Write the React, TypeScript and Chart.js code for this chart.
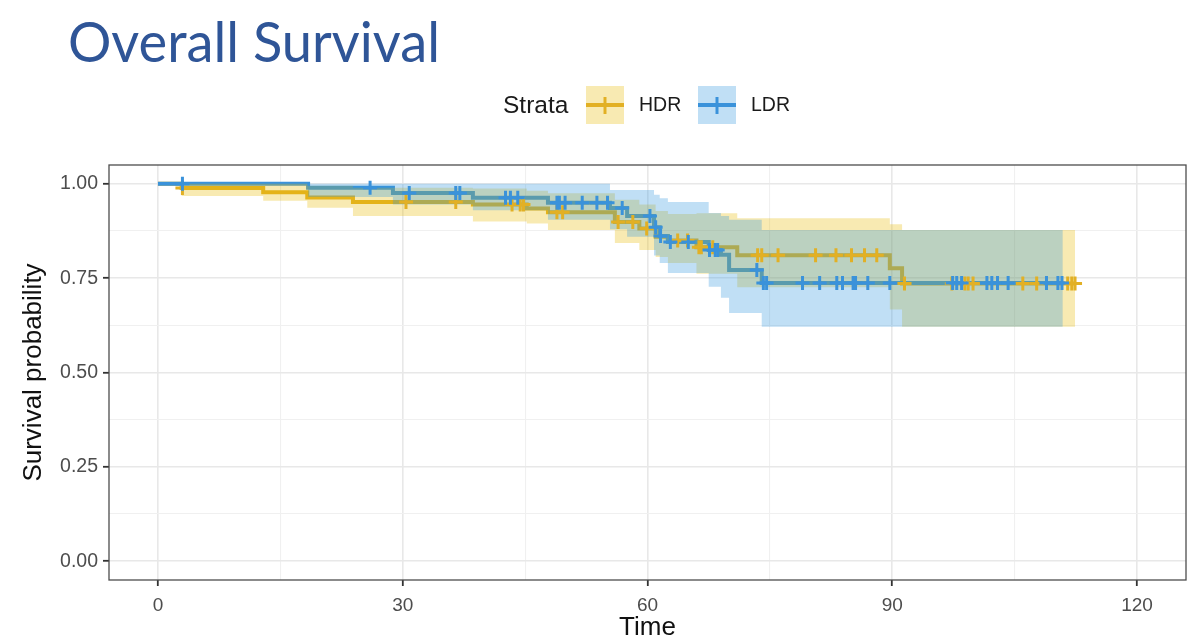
import React, { useEffect, useRef } from 'react';
import { Chart, registerables } from 'chart.js';

Chart.register(...registerables);

// ---------- data ----------
const TITLE = 'Overall Survival';
const strataNames = ['HDR', 'LDR'];

const hdrTime = [0, 2.9, 12.9, 18.3, 23.9, 38.6, 45.2, 47.8, 56.0, 59.0, 61.0, 62.5, 66.0, 71.0, 89.7, 91.2, 112.4];
const hdrSurv = [1.0, 0.989, 0.978, 0.964, 0.952, 0.945, 0.935, 0.925, 0.899, 0.882, 0.86, 0.85, 0.832, 0.811, 0.776, 0.736, 0.736];
const hdrLower = [1.0, 0.968, 0.955, 0.937, 0.915, 0.9, 0.895, 0.878, 0.843, 0.825, 0.806, 0.79, 0.762, 0.726, 0.667, 0.621, 0.621];
const hdrUpper = [1.0, 1.0, 1.0, 0.995, 0.99, 0.988, 0.982, 0.975, 0.958, 0.945, 0.928, 0.92, 0.922, 0.909, 0.893, 0.878, 0.878];
const hdrCensor = [3.0, 30.4, 36.5, 43.4, 44.4, 44.8, 48.9, 49.6, 56.4, 58.2, 59.9, 63.7, 64.9, 66.3, 66.6, 68.0, 73.5, 74.0, 76.0, 80.6, 83.1, 85.0, 86.6, 88.1, 91.5, 97.3, 98.9, 99.3, 99.9, 106.0, 107.7, 111.5, 112.0, 112.4];

const ldrTime = [0, 18.4, 28.8, 38.6, 47.8, 55.4, 57.5, 60.8, 61.5, 62.5, 67.5, 69.0, 70.0, 74.0, 110.9];
const ldrSurv = [1.0, 0.99, 0.976, 0.963, 0.95, 0.936, 0.915, 0.885, 0.862, 0.846, 0.825, 0.812, 0.772, 0.737, 0.737];
const ldrLower = [1.0, 0.965, 0.945, 0.93, 0.905, 0.88, 0.86, 0.81, 0.79, 0.764, 0.727, 0.698, 0.658, 0.621, 0.621];
const ldrUpper = [1.0, 1.0, 1.0, 1.0, 1.0, 0.984, 0.984, 0.971, 0.962, 0.952, 0.923, 0.915, 0.905, 0.878, 0.878];
const ldrCensor = [3.0, 26.0, 30.8, 36.5, 37.0, 42.6, 43.2, 44.1, 48.9, 49.2, 49.9, 52.0, 53.8, 55.1, 56.9, 60.3, 61.0, 61.6, 62.8, 65.0, 67.6, 68.3, 68.6, 73.4, 74.2, 74.6, 79.0, 81.1, 83.2, 83.9, 85.2, 85.5, 87.0, 89.7, 97.4, 97.9, 98.5, 101.6, 102.2, 102.9, 104.2, 108.9, 110.3, 110.8];

const xTicks = [0, 15, 30, 45, 60, 75, 90, 105, 120];
const xMajor = [0, 30, 60, 90, 120];
const yTicks = [0, 0.125, 0.25, 0.375, 0.5, 0.625, 0.75, 0.875, 1];
const yMajor = [0, 0.25, 0.5, 0.75, 1];

// ---------- styles ----------
const HDR_COLOR = '#E2B024';
const LDR_COLOR = '#3A92DA';
const HDR_BAND = 'rgba(231,184,0,0.3)';
const LDR_BAND = 'rgba(46,150,223,0.3)';
const TITLE_COLOR = '#2F5597';
const FONT = "'Liberation Sans', Arial, sans-serif";

const pts = (times: number[], vals: number[]) => times.map((t, i) => ({ x: t, y: vals[i] }));
const stepAt = (times: number[], vals: number[], t: number) => {
  let v = vals[0];
  for (let i = 0; i < times.length; i++) if (times[i] <= t) v = vals[i];
  return v;
};

const isMajor = (list: number[], v: number) => list.some((m) => Math.abs(m - v) < 1e-6);

const overlayPlugin = {
  id: 'overlay',
  afterDraw(chart: any) {
    const { ctx, chartArea: a } = chart;
    ctx.save();
    // panel border
    ctx.strokeStyle = '#4d4d4d';
    ctx.lineWidth = 1.3;
    ctx.strokeRect(a.left, a.top, a.right - a.left, a.bottom - a.top);

    // title
    ctx.fillStyle = TITLE_COLOR;
    ctx.font = "400 56px Lato, 'Open Sans', sans-serif";
    ctx.textAlign = 'left';
    ctx.textBaseline = 'alphabetic';
    const w = ctx.measureText(TITLE).width;
    ctx.save();
    ctx.translate(68, 62);
    ctx.scale(372 / w, 1);
    ctx.fillText(TITLE, 0, 0);
    ctx.restore();

    // legend
    ctx.textBaseline = 'middle';
    ctx.fillStyle = '#1a1a1a';
    ctx.font = `24.5px ${FONT}`;
    ctx.fillText('Strata', 503, 106);
    const keys = [
      { x: 586, color: HDR_COLOR, band: HDR_BAND, label: strataNames[0], lx: 639 },
      { x: 698, color: LDR_COLOR, band: LDR_BAND, label: strataNames[1], lx: 751 },
    ];
    keys.forEach((k) => {
      ctx.fillStyle = k.band;
      ctx.fillRect(k.x, 86, 38, 38);
      ctx.strokeStyle = k.color;
      ctx.lineWidth = 4;
      ctx.beginPath();
      ctx.moveTo(k.x, 105);
      ctx.lineTo(k.x + 38, 105);
      ctx.stroke();
      ctx.lineWidth = 3;
      ctx.beginPath();
      ctx.moveTo(k.x + 19, 97);
      ctx.lineTo(k.x + 19, 114);
      ctx.stroke();
      ctx.fillStyle = '#1a1a1a';
      ctx.font = `19.5px ${FONT}`;
      ctx.fillText(k.label, k.lx, 106);
    });
    ctx.restore();
  },
};

export default function App() {
  const canvasRef = useRef<HTMLCanvasElement | null>(null);

  useEffect(() => {
    if (!canvasRef.current) return;
    const lineBase = { stepped: 'before' as const, pointRadius: 0, fill: false, borderWidth: 4 };
    const bandEdge = { stepped: 'before' as const, pointRadius: 0, borderColor: 'rgba(0,0,0,0)', borderWidth: 1 };

    const chart = new Chart(canvasRef.current, {
      type: 'line',
      data: {
        datasets: [
          { ...lineBase, label: 'HDR', data: pts(hdrTime, hdrSurv), borderColor: HDR_COLOR, order: 6 },
          { ...lineBase, label: 'LDR', data: pts(ldrTime, ldrSurv), borderColor: LDR_COLOR, order: 5 },
          { ...bandEdge, label: 'HDR upper', data: pts(hdrTime, hdrUpper), fill: false, order: 4 },
          { ...bandEdge, label: 'HDR lower', data: pts(hdrTime, hdrLower), fill: '-1', backgroundColor: HDR_BAND, order: 4 },
          { ...bandEdge, label: 'LDR upper', data: pts(ldrTime, ldrUpper), fill: false, order: 3 },
          { ...bandEdge, label: 'LDR lower', data: pts(ldrTime, ldrLower), fill: '-1', backgroundColor: LDR_BAND, order: 3 },
          {
            label: 'HDR censor',
            data: hdrCensor.map((t) => ({ x: t, y: stepAt(hdrTime, hdrSurv, t) })),
            showLine: false,
            pointStyle: 'cross',
            pointRadius: 7,
            pointBorderWidth: 3,
            borderColor: HDR_COLOR,
            backgroundColor: HDR_COLOR,
            order: 2,
          },
          {
            label: 'LDR censor',
            data: ldrCensor.map((t) => ({ x: t, y: stepAt(ldrTime, ldrSurv, t) })),
            showLine: false,
            pointStyle: 'cross',
            pointRadius: 7,
            pointBorderWidth: 3,
            borderColor: LDR_COLOR,
            backgroundColor: LDR_COLOR,
            order: 1,
          },
        ],
      },
      options: {
        responsive: false,
        animation: false,
        devicePixelRatio: 1,
        events: [],
        layout: { padding: { top: 165, right: 14, bottom: 0, left: 0 } },
        plugins: { legend: { display: false }, tooltip: { enabled: false }, title: { display: false } },
        scales: {
          x: {
            type: 'linear',
            min: -6,
            max: 126,
            afterBuildTicks: (scale: any) => {
              scale.ticks = xTicks.map((v) => ({ value: v }));
            },
            afterFit: (scale: any) => {
              scale.height = 63;
            },
            border: { display: false },
            grid: {
              color: (c: any) => (isMajor(xMajor, c.tick?.value) ? '#E8E8E8' : '#F0F0F0'),
              lineWidth: (c: any) => (isMajor(xMajor, c.tick?.value) ? 1.6 : 1.1),
              tickColor: (c: any) => (isMajor(xMajor, c.tick?.value) ? '#333333' : 'rgba(0,0,0,0)'),
              tickLength: 6,
              tickWidth: 1.8,
              drawTicks: true,
            },
            ticks: {
              autoSkip: false,
              maxRotation: 0,
              padding: 8,
              color: '#4D4D4D',
              font: { family: FONT, size: 19 },
              callback: (v: any) => (isMajor(xMajor, Number(v)) ? String(v) : ''),
            },
            title: {
              display: true,
              text: 'Time',
              color: '#111111',
              font: { family: FONT, size: 26 },
              padding: { top: 0, bottom: 0 },
            },
          },
          y: {
            type: 'linear',
            min: -0.05,
            max: 1.05,
            afterBuildTicks: (scale: any) => {
              scale.ticks = yTicks.map((v) => ({ value: v }));
            },
            afterFit: (scale: any) => {
              scale.width = 109;
            },
            border: { display: false },
            grid: {
              color: (c: any) => (isMajor(yMajor, c.tick?.value) ? '#E8E8E8' : '#F0F0F0'),
              lineWidth: (c: any) => (isMajor(yMajor, c.tick?.value) ? 1.6 : 1.1),
              tickColor: (c: any) => (isMajor(yMajor, c.tick?.value) ? '#333333' : 'rgba(0,0,0,0)'),
              tickLength: 6,
              tickWidth: 1.8,
              drawTicks: true,
            },
            ticks: {
              autoSkip: false,
              padding: 5,
              color: '#4D4D4D',
              font: { family: FONT, size: 19.5 },
              callback: (v: any) => (isMajor(yMajor, Number(v)) ? Number(v).toFixed(2) : ''),
            },
            title: {
              display: true,
              text: 'Survival probability',
              color: '#111111',
              font: { family: FONT, size: 26 },
              padding: { top: 18, bottom: 0 },
            },
          },
        },
      },
      plugins: [overlayPlugin],
    } as any);

    return () => chart.destroy();
  }, []);

  return (
    <div style={{ position: 'fixed', left: 0, top: 0, width: 1200, height: 643, background: '#fff' }}>
      <canvas ref={canvasRef} width={1200} height={643} style={{ display: 'block' }} />
    </div>
  );
}
